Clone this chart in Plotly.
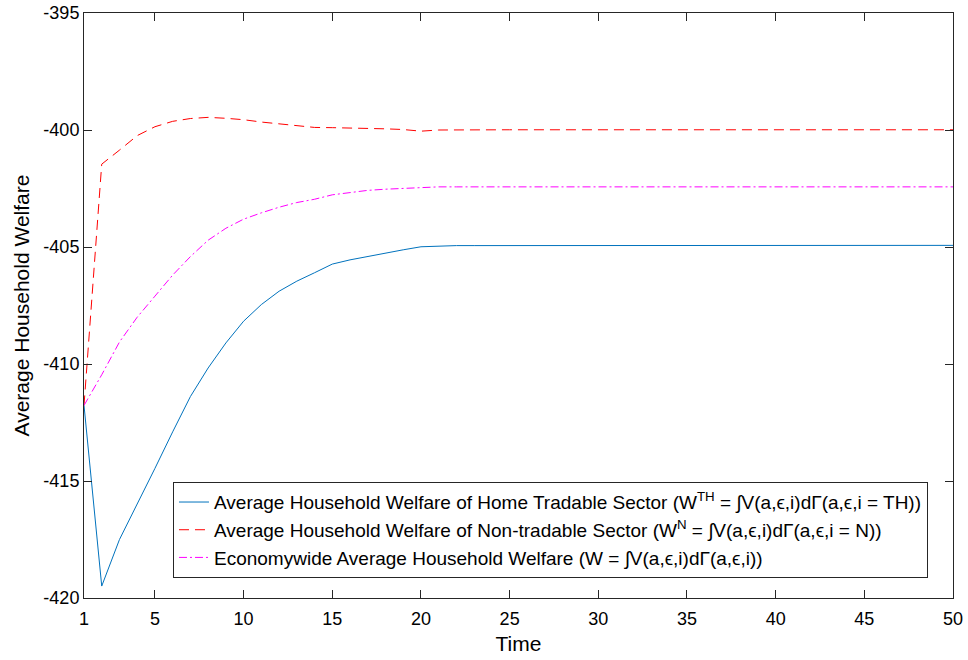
import plotly.graph_objects as go

time = list(range(1, 51))

welfare_th_head = [-411.77, -419.49, -417.5, -416.0, -414.46, -412.9, -411.39, -410.17,
                   -409.1, -408.17, -407.46, -406.89, -406.46, -406.1, -405.73, -405.55,
                   -405.4, -405.25, -405.12, -404.99, -404.95]
welfare_th_tail = [-404.94] * 24 + [-404.93] * 5
welfare_th = welfare_th_head + welfare_th_tail

welfare_n_head = [-411.77, -401.46, -400.86, -400.24, -399.86, -399.63, -399.51, -399.46,
                  -399.5, -399.56, -399.66, -399.74, -399.81, -399.89, -399.9, -399.91,
                  -399.92, -399.95, -399.98, -400.05, -400.0]
welfare_n_tail = [-399.99] * 29
welfare_n = welfare_n_head + welfare_n_tail

welfare_all_head = [-411.77, -410.46, -409.06, -408.0, -407.1, -406.2, -405.41, -404.71,
                    -404.2, -403.81, -403.54, -403.3, -403.1, -402.96, -402.77, -402.67,
                    -402.58, -402.53, -402.49, -402.45, -402.43]
welfare_all_tail = [-402.43] * 29
welfare_all = welfare_all_head + welfare_all_tail

x_ticks = [1, 5, 10, 15, 20, 25, 30, 35, 40, 45, 50]
y_ticks = [-420, -415, -410, -405, -400, -395]

names = [
    "Average Household Welfare of Home Tradable Sector (W<sup>TH</sup> = \u222bV(a,\u03f5,i)d\u0393(a,\u03f5,i = TH))",
    "Average Household Welfare of Non-tradable Sector (W<sup>N</sup> = \u222bV(a,\u03f5,i)d\u0393(a,\u03f5,i = N))",
    "Economywide Average Household Welfare (W = \u222bV(a,\u03f5,i)d\u0393(a,\u03f5,i))",
]

fig = go.Figure()
fig.add_trace(go.Scatter(x=time, y=welfare_th, mode="lines", name=names[0],
                         line=dict(color="#0072BD", width=1)))
fig.add_trace(go.Scatter(x=time, y=welfare_n, mode="lines", name=names[1],
                         line=dict(color="#FF0000", width=1, dash="10px,6px")))
fig.add_trace(go.Scatter(x=time, y=welfare_all, mode="lines", name=names[2],
                         line=dict(color="#FF00FF", width=1, dash="8px,3px,2px,3px")))

axis_common = dict(
    showline=True, linecolor="#262626", linewidth=1, mirror="ticks",
    ticks="inside", ticklen=8, tickcolor="#262626", tickwidth=1,
    showgrid=False, zeroline=False, automargin=False,
    tickfont=dict(family="Liberation Sans, Arial", size=18, color="#000000"),
)

fig.update_layout(
    width=968, height=660,
    margin=dict(l=84, r=15, t=13, b=62, autoexpand=False),
    paper_bgcolor="white", plot_bgcolor="white",
    font=dict(family="Liberation Sans, Arial", size=18, color="#000000"),
    xaxis=dict(range=[1, 50], tickvals=x_ticks, ticktext=[str(v) for v in x_ticks],
               ticklabelstandoff=4,
               title=dict(text="Time", font=dict(size=21), standoff=8), **axis_common),
    yaxis=dict(range=[-420, -395], tickvals=y_ticks, ticktext=[str(v) for v in y_ticks],
               title=dict(text="Average Household Welfare", font=dict(size=21), standoff=8),
               **axis_common),
    legend=dict(x=0.1024, y=0.198, xanchor="left", yanchor="top",
                bgcolor="white", bordercolor="#262626", borderwidth=1,
                font=dict(size=19), tracegroupgap=0, itemwidth=30),
    showlegend=True,
)

fig.write_html("out.html")
